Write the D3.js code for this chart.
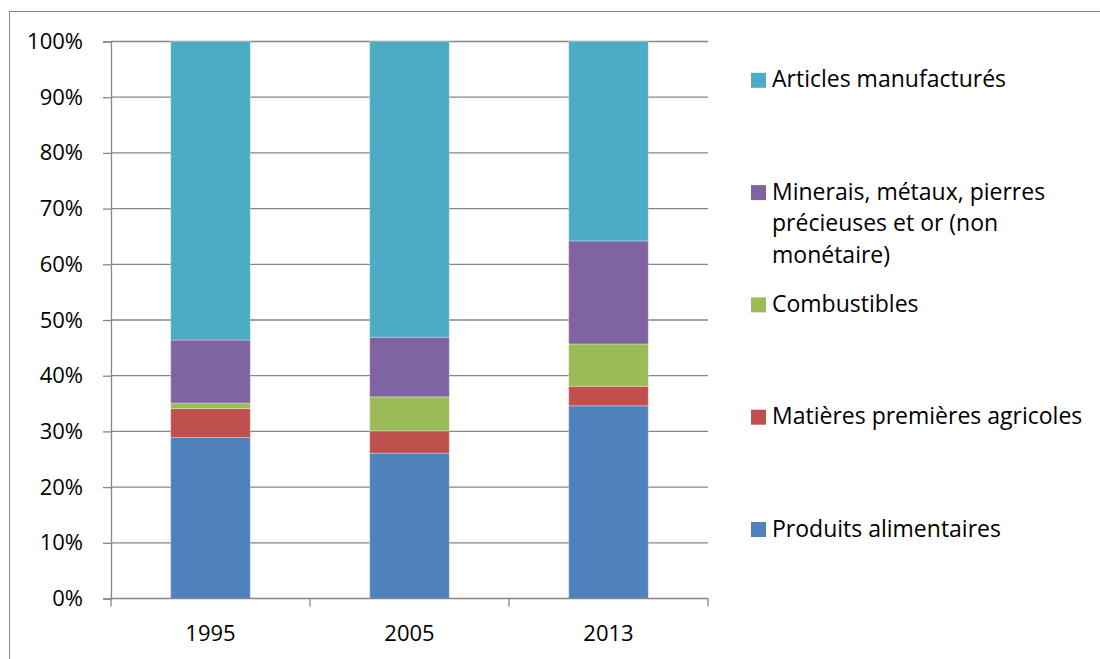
<!DOCTYPE html>
<html>
<head>
<meta charset="utf-8">
<script src="https://cdn.jsdelivr.net/npm/d3@7"></script>
<style>
  body { margin: 0; background: #fff; }
  svg { display: block; font-family: "Open Sans", sans-serif; }
</style>
</head>
<body>
<div id="chart"></div>
<script>
const years = ["1995", "2005", "2013"]
const series = ["Produits alimentaires", "Matières premières agricoles", "Combustibles",
                "Minerais, métaux, pierres précieuses et or (non monétaire)", "Articles manufacturés"]
const legendLines = [
  ["Produits alimentaires"],
  ["Matières premières agricoles"],
  ["Combustibles"],
  ["Minerais, métaux, pierres", "précieuses et or (non", "monétaire)"],
  ["Articles manufacturés"]
]
const colors = ["#4F81BD", "#C0504D", "#9BBB59", "#8064A2", "#4BACC6"]
// share of each group (%), one array per year, same order as series
const v1995 = [28.9, 5.2, 1.0, 11.3, 53.6]
const v2005 = [26.1, 4.0, 6.1, 10.7, 53.1]
const v2013 = [34.6, 3.5, 7.6, 18.5, 35.8]
const yTicks = [0, 0.1, 0.2, 0.3, 0.4, 0.5, 0.6, 0.7, 0.8, 0.9, 1]

const width = 1100,
      height = 659,
      margin = {top: 41.5, right: 392, bottom: 60.5, left: 111}

const rows = [v1995, v2005, v2013].map((v, i) => {
  const row = {year: years[i]}
  series.forEach((s, j) => row[s] = v[j])
  return row
})
const stacked = d3.stack().keys(series).offset(d3.stackOffsetExpand)(rows)

let x = d3.scaleBand()
    .domain(years)
    .range([margin.left, width - margin.right])
    .paddingInner(0.6)
    .paddingOuter(0.3)

let xBand = d3.scaleBand()
    .domain(years)
    .range([margin.left, width - margin.right])

let y = d3.scaleLinear()
    .domain([0, 1])
    .range([height - margin.bottom, margin.top])

const svg = d3.select("#chart")
  .append("svg")
  .attr("width", width)
  .attr("height", height)

// chart frame
svg.append("rect")
  .attr("x", 9.5).attr("y", 11.5)
  .attr("width", 1200).attr("height", 800)
  .attr("fill", "none")
  .attr("stroke", "#868686")
  .attr("stroke-width", 1)

// gridlines
svg.append("g")
  .selectAll("line")
  .data(yTicks.slice(1))
  .join("line")
    .attr("x1", margin.left).attr("x2", width - margin.right)
    .attr("y1", d => y(d)).attr("y2", d => y(d))
    .attr("stroke", "#868686")
    .attr("stroke-width", 1.3)

// bars
svg.append("g")
  .selectAll("g")
  .data(stacked)
  .join("g")
    .attr("fill", (d, i) => colors[i])
  .selectAll("rect")
  .data(d => d)
  .join("rect")
    .attr("x", d => x(d.data.year))
    .attr("width", x.bandwidth())
    .attr("y", d => y(d[1]))
    .attr("height", d => y(d[0]) - y(d[1]))
    .attr("stroke", "#fff")
    .attr("stroke-opacity", 0.3)
    .attr("stroke-width", 1)

// y axis
svg.append("g")
  .attr("transform", `translate(${margin.left},0)`)
  .call(d3.axisLeft(y).tickValues(yTicks).tickFormat(d3.format(".0%")).tickSize(8).tickPadding(20))
  .call(g => g.selectAll("line, path").attr("stroke", "#868686").attr("stroke-width", 1.3))
  .call(g => g.selectAll("text").attr("font-size", 22).attr("fill", "#000")
      .attr("font-family", "'Open Sans', sans-serif"))

// x axis: ticks sit between categories
const xTicks = years.map(yr => xBand(yr)).concat([width - margin.right])
svg.append("g")
  .call(g => g.append("line")
      .attr("x1", margin.left).attr("x2", width - margin.right)
      .attr("y1", y(0)).attr("y2", y(0))
      .attr("stroke", "#868686").attr("stroke-width", 1.3))
  .call(g => g.selectAll(".tk")
      .data(xTicks)
      .join("line")
        .attr("class", "tk")
        .attr("x1", d => d).attr("x2", d => d)
        .attr("y1", y(0)).attr("y2", y(0) + 8)
        .attr("stroke", "#868686").attr("stroke-width", 1.3))
  .call(g => g.selectAll("text")
      .data(years)
      .join("text")
        .attr("x", d => xBand(d) + xBand.bandwidth() / 2)
        .attr("y", y(0) + 42.5)
        .attr("text-anchor", "middle")
        .attr("font-size", 22)
        .text(d => d))

// legend (top entry = last series)
const legendTop = 87.3, legendStep = 112.3, lineH = 31.5
const legend = svg.append("g")
  .selectAll("g")
  .data(d3.range(series.length).reverse())
  .join("g")
    .attr("transform", (d, i) => `translate(751,${legendTop + i * legendStep})`)

legend.append("rect")
  .attr("y", -14.5)
  .attr("width", 15)
  .attr("height", 15)
  .attr("fill", d => colors[d])

legend.append("text")
  .attr("font-size", 23)
  .attr("fill", "#000")
  .selectAll("tspan")
  .data(d => legendLines[d])
  .join("tspan")
    .attr("x", 21)
    .attr("y", (d, i) => i * lineH)
    .text(d => d)
</script>
</body>
</html>
